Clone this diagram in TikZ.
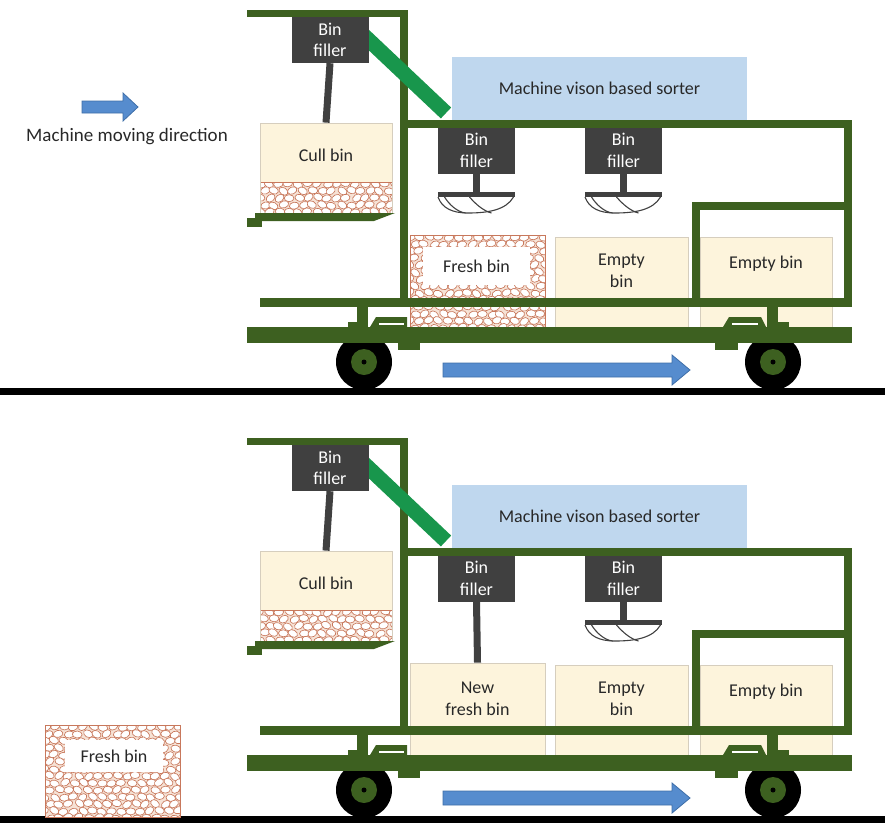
\documentclass[tikz,border=0pt]{standalone}
\usepackage{fontspec}
\setmainfont{Carlito}
\usetikzlibrary{calc}

\definecolor{framegreen}{RGB}{61,96,32}
\definecolor{chutegreen}{RGB}{24,150,76}
\definecolor{sorterblue}{RGB}{191,215,238}
\definecolor{fillergray}{RGB}{64,64,64}
\definecolor{bincream}{RGB}{253,244,220}
\definecolor{binedge}{RGB}{214,206,190}
\definecolor{pebbleedge}{RGB}{200,120,92}
\definecolor{pebblegap}{RGB}{246,226,213}
\definecolor{arrowblue}{RGB}{86,140,206}
\definecolor{arrowedge}{RGB}{62,110,168}
\definecolor{labelgray}{RGB}{40,40,40}

\tikzset{
  chassis/.style={fill=framegreen},
  fillerbox/.style={fill=fillergray, text=white, minimum width=77pt, minimum height=46pt,
    inner sep=0pt, align=center, font=\fontsize{18}{21.5}\selectfont},
  fillstem/.style={draw=fillergray, line width=7pt},
  binbox/.style={fill=bincream, draw=binedge, line width=0.8pt, inner sep=0pt},
  tag/.style={text=labelgray, align=center, inner sep=0pt, font=\fontsize{18}{21.5}\selectfont},
  pebble/.style={draw=pebbleedge, fill=white, line width=0.65pt},
  flow/.style={fill=arrowblue, draw=arrowedge, line width=0.8pt},
  tyre/.style={circle, fill=black, minimum size=56pt, inner sep=0pt},
  hub/.style={circle, fill=framegreen, minimum size=26pt, inner sep=0pt},
  sorterbox/.style={fill=sorterblue, minimum width=295pt, minimum height=63pt, inner sep=0pt,
    text=labelgray, font=\fontsize{18}{21.5}\selectfont},
  spreader/.pic={
    \fill[fillergray] (-38.5,0) rectangle (38.5,5);
    \draw[fillergray, line width=1.1pt]
      (-38.5,5) .. controls (-34.5,16) and (-24.5,21) .. (-8.5,21)
      .. controls (11.5,21) and (29.5,18) .. (37,5);
    \draw[fillergray, line width=1.1pt]
      (-32,5) .. controls (-27,13) and (-19,20) .. (-11,21);
    \draw[fillergray, line width=1.1pt]
      (-7,5) .. controls (-1,12) and (7,19) .. (15,21);
  }
}

% packed potatoes inside a rectangle
\newcommand{\pebblearea}[4]{%
  \begin{scope}
    \clip (#1,#2) rectangle (#3,#4);
    \fill[pebblegap] (#1,#2) rectangle (#3,#4);
    \foreach \prow in {0,...,13}{
      \foreach \pcol in {0,...,15}{
        \pgfmathsetmacro\px{#1+\pcol*9.6+mod(\prow,2)*4.8+rand*1.4}
        \pgfmathsetmacro\py{#2+2+\prow*7+rand*1.0}
        \pgfmathsetmacro\pa{rand*40}
        \draw[pebble, rotate around={\pa:(\px,\py)}] (\px,\py) ellipse [x radius=4.9, y radius=3.5];
      }}
  \end{scope}
  \draw[pebbleedge, line width=0.6pt] (#1,#2) rectangle (#3,#4);}

% the harvester platform shared by both stages
\newcommand{\machinebody}{%
  % empty bins
  \node[binbox, minimum width=133pt, minimum height=90pt] (emptyA) at (621.5,282) {};
  \node[binbox, minimum width=132pt, minimum height=90pt] (emptyB) at (766,282) {};
  \node[tag] (emptyAtxt) at (621.5,271) {Empty\\bin};
  \node[tag] (emptyBtxt) at (766,264) {Empty bin};
  % wheels
  \node[tyre] (wl) at (364,362) {};
  \node[hub] (wlhub) at (wl) {};
  \fill[black] (wl) circle (2.5);
  \node[tyre] (wr) at (773,362) {};
  \node[hub] (wrhub) at (wr) {};
  \fill[black] (wr) circle (2.5);
  % frame
  \fill[chassis] (247,10) rectangle (407,17);
  \fill[chassis] (400,10) rectangle (408,307);
  \fill[chassis] (400,120) rectangle (852,128);
  \fill[chassis] (844,120) rectangle (852,307);
  \fill[chassis] (692,202) rectangle (852,210);
  \fill[chassis] (692,202) rectangle (700,307);
  \fill[chassis] (260,298) rectangle (852,307);
  % chassis beam, posts and axle brackets
  \fill[chassis] (247,327) rectangle (852,343);
  \fill[chassis] (357,307) rectangle (368,327);
  \fill[chassis] (348,322) rectangle (358,327);
  \fill[chassis] (370,327) -- (376,317) -- (407,317) -- (407,327) -- cycle;
  \draw[white, line width=1.8pt] (379,324) -- (404,324);
  \fill[chassis] (398,342) rectangle (420,350);
  \fill[chassis] (767,307) rectangle (778,327);
  \fill[chassis] (777,322) rectangle (789,327);
  \fill[chassis] (723,327) -- (729,317) -- (761,317) -- (766,327) -- cycle;
  \draw[white, line width=1.8pt] (732,324) -- (758,324);
  \fill[chassis] (715,342) rectangle (738,350);
  % chute from the sorter to the cull filler
  \draw[chutegreen, line width=15pt] (355,27) -- (446,113);
  % sorter
  \node[sorterbox] (sorter) at (599.5,88.5) {Machine vison based sorter};
  % cull bin filler and cull bin
  \node[fillerbox] (f0) at (330,40) {Bin\\filler};
  \node[binbox, minimum width=132pt, minimum height=90pt] (cull) at (326,168) {};
  \pebblearea{260}{182}{392}{213}
  \draw[binedge, line width=0.8pt] (260,123) rectangle (392,213);
  \node[tag] (culltxt) at (326,155) {Cull bin};
  \draw[fillstem] (f0.south) -- (cull.north);
  \fill[chassis] (255,213) -- (395,213) -- (374,221) -- (255,221) -- cycle;
  \fill[chassis] (247,218) rectangle (262,227);
  % fresh bin fillers
  \node[fillerbox] (f1) at (476.5,150.5) {Bin\\filler};
  \node[fillerbox] (f2) at (623.5,150.5) {Bin\\filler};
  \coordinate (s2) at (623.5,192);
  \draw[fillstem] (f2.south) -- (s2);
  \pic at (s2) {spreader};
  % ground and travel direction
  \fill[black] (0,388) rectangle (885,395);
  \fill[flow] (443,363) -- (672,363) -- (672,355) -- (690,370) -- (672,385) -- (672,377) -- (443,377) -- cycle;
}

\begin{document}
\begin{tikzpicture}[x=1pt,y=-1pt]
\useasboundingbox (0,0) rectangle (885,822);
\pgfmathsetseed{11}

% legend for the direction of travel
\fill[flow] (82,101) -- (123,101) -- (123,93) -- (138,107) -- (123,121) -- (123,113) -- (82,113) -- cycle;
\node[tag, font=\fontsize{19}{22}\selectfont] (dirtxt) at (127,137) {Machine moving direction};

% stage 1: filling the fresh bin
\begin{scope}[name prefix=a-]
  \pebblearea{410}{235}{545}{327}
  \node[fill=white, minimum width=107pt, minimum height=38pt, tag] (fresh) at (476.5,266) {Fresh bin};
  \machinebody
  \coordinate (s1) at (476.5,192);
  \draw[fillstem] (f1.south) -- (s1);
  \pic at (s1) {spreader};
\end{scope}

% stage 2: full bin dropped, new bin filling
\begin{scope}[shift={(0,428)}, name prefix=b-]
  \node[binbox, minimum width=135pt, minimum height=92pt] (newbin) at (477.5,281) {};
  \node[tag] (newtxt) at (477.5,271) {New\\fresh bin};
  \machinebody
  \draw[fillstem] (f1.south) -- (newbin.north);
\end{scope}

% the dropped full bin on the ground
\pebblearea{45}{725}{180}{817}
\node[fill=white, minimum width=98pt, minimum height=32pt, tag] (dropped) at (114,756) {Fresh bin};
\end{tikzpicture}
\end{document}
